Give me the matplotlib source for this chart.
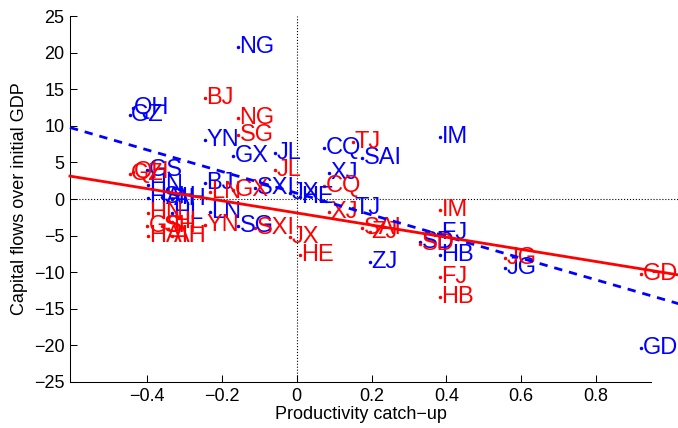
import numpy as np
import matplotlib
matplotlib.use('Agg')
import matplotlib.pyplot as plt

# province codes, productivity catch-up (x), capital flows for two measures
names = ['QH', 'GZ', 'GS', 'HN', 'HAI', 'AH', 'HL', 'SH', 'BJ', 'YN',
         'LN', 'SG', 'NG', 'GX', 'SXI', 'JL', 'JX', 'HE', 'CQ', 'XJ',
         'TJ', 'SAI', 'ZJ', 'SD', 'IM', 'FJ', 'HB', 'JG', 'GD']
catchup = [-0.438, -0.446, -0.40, -0.398, -0.398, -0.333, -0.333, -0.36, -0.245, -0.245,
           -0.232, -0.157, -0.157, -0.17, -0.111, -0.058, -0.018, 0.009, 0.073, 0.086,
           0.15, 0.175, 0.196, 0.33, 0.383, 0.383, 0.383, 0.557, 0.92]
flows_blue = [12.4, 11.5, 4.0, 1.9, 0.1, 0.0, -1.9, 0.3, 2.2, 8.1,
              -1.8, -3.7, 20.8, 5.9, 1.5, 6.3, 0.8, 0.3, 7.0, 3.5,
              -1.2, 5.6, -8.6, -5.9, 8.5, -4.6, -7.7, -9.4, -20.4]
flows_red = [3.7, 3.4, -3.7, -1.9, -5.0, -5.1, -3.1, -3.7, 13.8, -3.6,
             1.0, 8.7, 11.1, 1.2, -4.0, 4.0, -5.2, -7.7, 1.8, -1.8,
             7.8, -4.0, -4.5, -6.1, -1.5, -10.7, -13.4, -8.1, -10.2]

# fitted lines (slope, intercept)
fit_blue = (-14.8, 0.8)
fit_red = (-8.3, -1.9)

plt.rcParams['font.family'] = ['Liberation Sans', 'DejaVu Sans']

fig = plt.figure(figsize=(6.78, 4.28), dpi=100)
ax = fig.add_axes([0.1032, 0.1075, 0.857, 0.855])

x = np.array(catchup)
ax.plot(x, flows_blue, '.', color='blue', markersize=3, zorder=2)
ax.plot(x, flows_red, '.', color='red', markersize=3, zorder=2)
for n, xi, yb in zip(names, x, flows_blue):
    ax.text(xi + 0.004, yb, n, color='blue', fontsize=17, ha='left', va='center', zorder=3)
for n, xi, yr in zip(names, x, flows_red):
    ax.text(xi + 0.004, yr, n, color='red', fontsize=17, ha='left', va='center', zorder=4)

xl = (-0.606, 0.947)
xx = np.array([xl[0], 1.05])
ax.plot(xx, fit_blue[0] * xx + fit_blue[1], '--', color='blue', lw=2, dashes=(3, 2.5),
        clip_on=False, zorder=5)
ax.plot(xx, fit_red[0] * xx + fit_red[1], '-', color='red', lw=2, clip_on=False, zorder=6)

ax.plot(xx, [0, 0], ':', color='black', lw=0.8, clip_on=False, zorder=1)
ax.axvline(0, color='black', ls=':', lw=0.8, zorder=1)

ax.set_xlim(xl)
ax.set_ylim(-25, 25)
ax.set_xticks([-0.4, -0.2, 0, 0.2, 0.4, 0.6, 0.8])
ax.set_xticklabels(['\u22120.4', '\u22120.2', '0', '0.2', '0.4', '0.6', '0.8'])
ax.set_yticks(np.arange(-25, 26, 5))
ax.tick_params(direction='in', length=5, width=0.75, labelsize=13, pad=4)
for s in ['top', 'right']:
    ax.spines[s].set_visible(False)
for s in ['left', 'bottom']:
    ax.spines[s].set_linewidth(0.75)

ax.set_xlabel('Productivity catch\u2212up', fontsize=13, labelpad=1)
ax.set_ylabel('Capital flows over initial GDP', fontsize=13, labelpad=4)

fig.savefig('out.png', dpi=100)
